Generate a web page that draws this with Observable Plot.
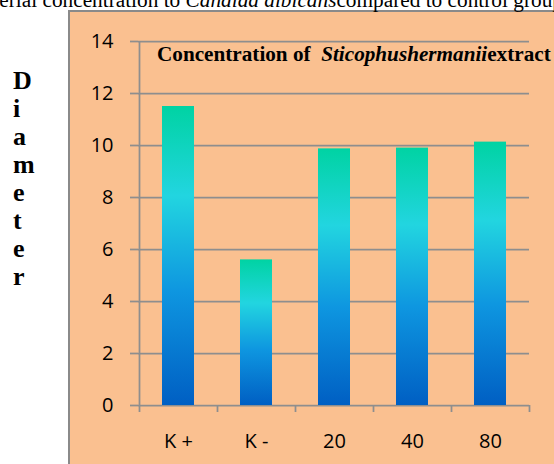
<!DOCTYPE html>
<html>
<head>
<meta charset="utf-8">
<script src="https://cdn.jsdelivr.net/npm/d3@7"></script>
<script src="https://cdn.jsdelivr.net/npm/@observablehq/plot@0.6"></script>
<style>
  html, body { margin: 0; padding: 0; width: 554px; height: 464px; overflow: hidden; background: #fff; }
  #wrap { position: relative; width: 554px; height: 464px; overflow: hidden; }
  #panel { position: absolute; left: 68px; top: 10px; width: 600px; height: 600px; box-sizing: border-box;
           background: #FAC090; border: 2px solid #8a8a8a; }
  #chart { position: absolute; left: 0; top: 0; }
  #chart svg text { font-size: 20px; }
  .serif { font-family: "Liberation Serif", "Times New Roman", serif; color: #000; position: absolute; white-space: nowrap; }
  #top { left: -9px; top: -10px; font-size: 21.3px; line-height: 20px; }
  #title { left: 157px; top: 44px; font-size: 21.2px; line-height: 20px; font-weight: bold; }
  #ylab { left: 13px; top: 67px; font-size: 26px; line-height: 28px; font-weight: bold; }
</style>
</head>
<body>
<div id="wrap">
  <div id="panel"></div>
  <div id="chart"></div>
  <div id="top" class="serif">serial concentration to <i>Candida albicans</i>compared to control group</div>
  <div id="title" class="serif">Concentration of&nbsp; <i>Sticophushermanii</i>extract</div>
  <div id="ylab" class="serif"></div>
</div>
<script>
const categories = ["K +", "K -", "20", "40", "80"];
const diameters = [11.5, 5.6, 9.87, 9.9, 10.13];
const yTicks = [0, 2, 4, 6, 8, 10, 12, 14];
const yLabel = "Diameter";

document.getElementById("ylab").innerHTML = yLabel.split("").join("<br>");

const data = categories.map((c, i) => ({ cat: c, value: diameters[i] }));
const gray = "#8e8e8e";

const defs = () => {
  const ns = "http://www.w3.org/2000/svg";
  const d = document.createElementNS(ns, "defs");
  const g = document.createElementNS(ns, "linearGradient");
  g.setAttribute("id", "barGrad");
  g.setAttribute("x1", "0"); g.setAttribute("y1", "0");
  g.setAttribute("x2", "0"); g.setAttribute("y2", "1");
  [["0", "#00D3A3"], ["0.3", "#22D5E0"], ["0.62", "#0E96E0"], ["1", "#005FC3"]].forEach(([o, c]) => {
    const s = document.createElementNS(ns, "stop");
    s.setAttribute("offset", o); s.setAttribute("stop-color", c);
    g.appendChild(s);
  });
  d.appendChild(g);
  return d;
};

const plot = Plot.plot({
  width: 554,
  height: 464,
  marginLeft: 138,
  marginRight: 25,
  marginTop: 41,
  marginBottom: 59,
  style: { background: "transparent", fontFamily: "'Open Sans', 'Liberation Sans', sans-serif", fontSize: "20px", overflow: "visible" },
  x: { domain: categories, paddingInner: 0.59, paddingOuter: 0.295, label: null },
  y: { domain: [0, 14], label: null },
  marks: [
    defs,
    Plot.ruleY(yTicks, { stroke: gray, strokeWidth: 1.75 }),
    Plot.barY(data, { x: "cat", y: "value", fill: "url(#barGrad)" }),
    Plot.ruleX([categories[0]], { y1: 0, y2: 14, dx: -39, stroke: gray, strokeWidth: 1.75 }),
    Plot.ruleX(categories, { y1: 0, y2: -0.27, dx: -39, stroke: gray, strokeWidth: 1.75 }),
    Plot.ruleX([categories[categories.length - 1]], { y1: 0, y2: -0.27, dx: 39, stroke: gray, strokeWidth: 1.75 }),
    Plot.axisY({ ticks: yTicks, tickSize: 8, tickPadding: 17, fontSize: 20, stroke: gray, strokeWidth: 1.75, fill: "#000", tickFormat: d => String(d) }),
    Plot.axisX({ tickSize: 0, tickPadding: 28, fontSize: 20, fill: "#000" })
  ]
});
document.getElementById("chart").appendChild(plot);
</script>
</body>
</html>
